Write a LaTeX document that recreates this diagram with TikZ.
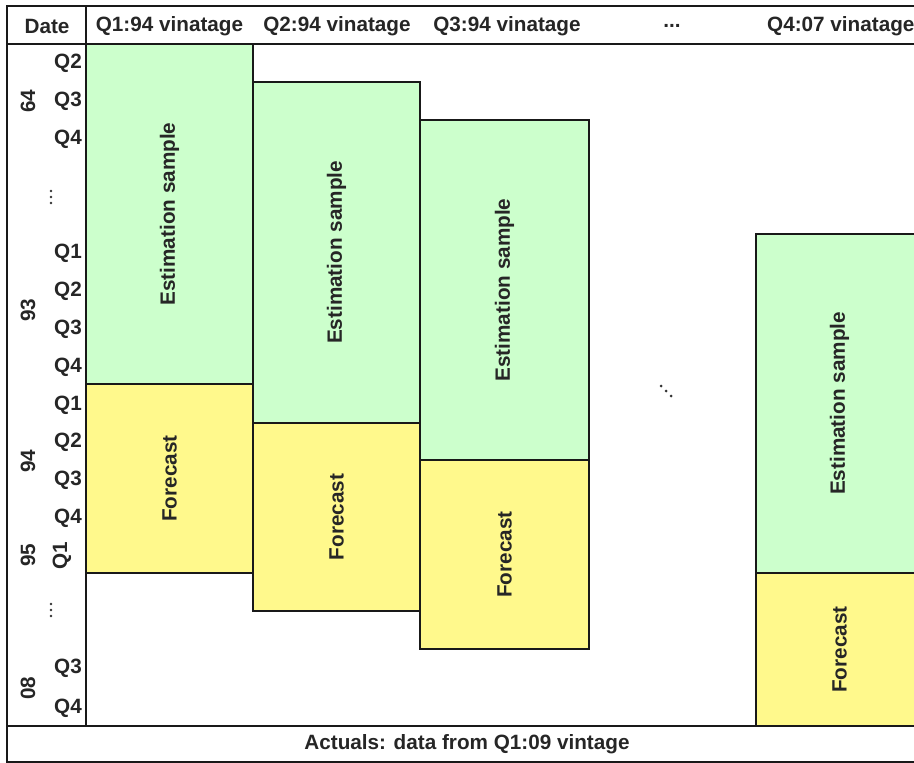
\documentclass[tikz,border=0pt]{standalone}
\usepackage{fontspec}
\setmainfont{Liberation Sans}
\begin{document}
\begin{tikzpicture}[x=1pt,y=-1pt,
  frame/.style={line width=2pt,draw=black!90},
  est/.style={fill=green!20,draw=black!90,line width=2pt},
  fc/.style={fill=yellow!45,draw=black!90,line width=2pt},
  lbl/.style={font=\fontsize{20.7}{24}\selectfont\bfseries,inner sep=0pt,text=black!85},
  rlbl/.style={lbl,rotate=90},
  dot/.style={fill=black!80,draw=none}]
\useasboundingbox (0,0) rectangle (914,763);
\clip (0,0) rectangle (914,763);
% boxes
\draw[est] (86,44) rectangle (253,384);
\draw[fc] (86,384) rectangle (253,573);
\draw[est] (253,82) rectangle (420,423);
\draw[fc] (253,423) rectangle (420,611);
\draw[est] (420,120) rectangle (589,460);
\draw[fc] (420,460) rectangle (589,649);
\draw[est] (756,234) rectangle (923,573);
\draw[fc] (756,573) rectangle (923,726);
\node[rlbl] (e1) at (169.5,214) {Estimation sample};
\node[rlbl] (f1) at (169.5,478.5) {Forecast};
\node[rlbl] (e2) at (336.5,252.5) {Estimation sample};
\node[rlbl] (f2) at (336.5,517) {Forecast};
\node[rlbl] (e3) at (504.5,290) {Estimation sample};
\node[rlbl] (f3) at (504.5,554.5) {Forecast};
\node[rlbl] (e4) at (839.5,403.5) {Estimation sample};
\node[rlbl] (f4) at (839.5,649.5) {Forecast};
% frame
\draw[frame] (7,6) -- (914,6);
\draw[frame] (7,44) -- (914,44);
\draw[frame] (7,726) -- (914,726);
\draw[frame] (7,762) -- (914,762);
\draw[frame] (7,5) -- (7,763);
\draw[frame] (86,6) -- (86,726);
% header
\node[lbl] (hd) at (47,26) {Date};
\node[lbl] (h1) at (169.5,26) {Q1:94 vinatage};
\node[lbl] (h2) at (337,26) {Q2:94 vinatage};
\node[lbl] (h3) at (507,26) {Q3:94 vinatage};
\node[lbl] (h4) at (672,26) {...};
\node[lbl,anchor=west] (h5) at (767,26) {Q4:07 vinatage};
\node[lbl] (act) at (467,744) {Actuals: data from Q1:09 vintage};
% quarters
\node[lbl] (q1) at (68,63) {Q2};
\node[lbl] (q2) at (68,101) {Q3};
\node[lbl] (q3) at (68,139) {Q4};
\node[lbl] (q4) at (68,253) {Q1};
\node[lbl] (q5) at (68,291) {Q2};
\node[lbl] (q6) at (68,329) {Q3};
\node[lbl] (q7) at (68,367) {Q4};
\node[lbl] (q8) at (68,405) {Q1};
\node[lbl] (q9) at (68,442) {Q2};
\node[lbl] (q10) at (68,480) {Q3};
\node[lbl] (q11) at (68,518) {Q4};
\node[rlbl] (q12) at (62,556) {Q1};
\node[lbl] (q13) at (68,668) {Q3};
\node[lbl] (q14) at (68,708) {Q4};
% years
\node[rlbl] (y1) at (28,101) {64};
\node[rlbl] (y2) at (28,310) {93};
\node[rlbl] (y3) at (28,461) {94};
\node[rlbl] (y4) at (28,555) {95};
\node[rlbl] (y5) at (28,688) {08};
% dots
\foreach \yy in {191,197,203} \fill[dot] (51,\yy) circle (1.4);
\foreach \yy in {604,610,616} \fill[dot] (51,\yy) circle (1.4);
\fill[dot] (661,386) circle (1.5);
\fill[dot] (666,391) circle (1.5);
\fill[dot] (671,396) circle (1.5);
\end{tikzpicture}
\end{document}
